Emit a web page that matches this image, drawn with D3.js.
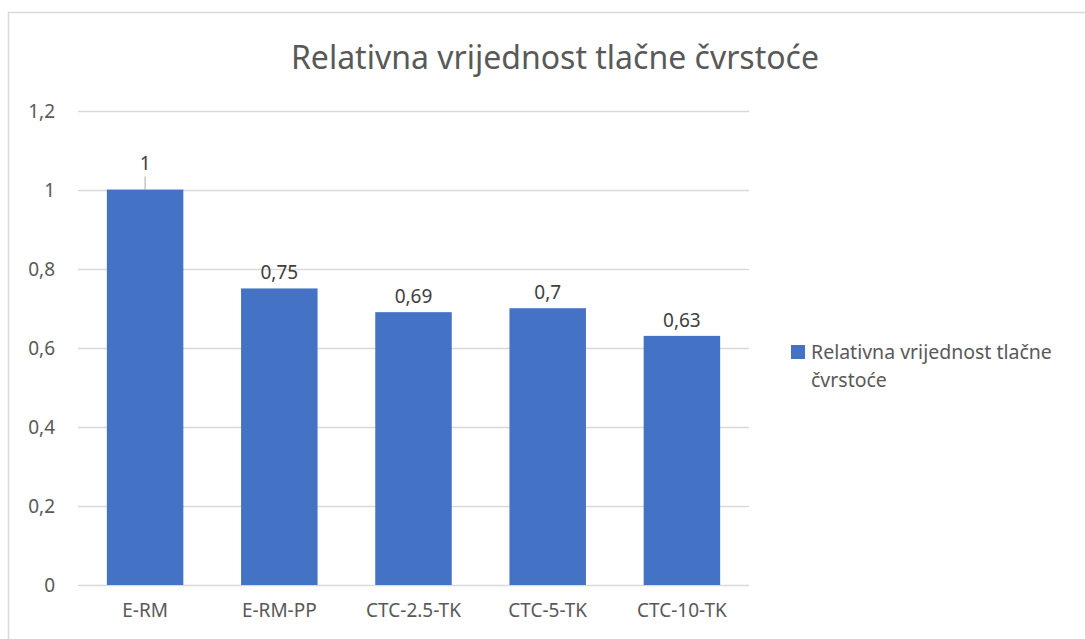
<!DOCTYPE html>
<html>
<head>
<meta charset="utf-8">
<script src="https://cdn.jsdelivr.net/npm/d3@7"></script>
<style>
  body { margin: 0; background: #fff; }
  svg { font-family: "Noto Sans", "Open Sans", sans-serif; }
</style>
</head>
<body>
<svg id="chart" width="1085" height="639"></svg>
<script>
// data
var categories = ["E-RM", "E-RM-PP", "CTC-2.5-TK", "CTC-5-TK", "CTC-10-TK"];
var values = [1, 0.75, 0.69, 0.7, 0.63];
var yTicks = [0, 0.2, 0.4, 0.6, 0.8, 1, 1.2];
var seriesName = "Relativna vrijednost tlačne čvrstoće";
var chartTitle = "Relativna vrijednost tlačne čvrstoće";

var svg = d3.select("#chart");
var textColor = "#595959";
var fontFam = '"Noto Sans", "Open Sans", sans-serif';
var fmt = (v) => String(v).replace(".", ",");

// outer frame (only top and left edge visible in picture)
svg.append("path")
  .attr("d", "M8.5,639 L8.5,12.5 L1085,12.5")
  .attr("fill", "none")
  .attr("stroke", "#d9d9d9")
  .attr("stroke-width", 1.5);

var xScale = d3.scaleBand().domain(categories).range([78, 749]).paddingInner(0.43).paddingOuter(0.215);
var yScale = d3.scaleLinear().domain([0, 1.2]).range([585, 110.5]);

// gridlines
svg.append("g")
  .selectAll("line")
  .data(yTicks)
  .join("line")
  .attr("x1", 78).attr("x2", 749)
  .attr("y1", (d) => Math.round(yScale(d)) + 0.5)
  .attr("y2", (d) => Math.round(yScale(d)) + 0.5)
  .attr("stroke", "#d9d9d9")
  .attr("stroke-width", 1.3);

// y axis labels
var yAxis = d3.axisLeft(yScale).tickValues(yTicks).tickFormat(fmt).tickSize(0).tickPadding(0);
var yg = svg.append("g").attr("transform", "translate(55,0)").call(yAxis)
  .attr("font-family", fontFam);
yg.select(".domain").remove();
yg.selectAll("text").attr("fill", textColor).style("font-size", "19px").attr("dy", "0.35em");

// x axis labels
var xAxis = d3.axisBottom(xScale).tickSize(0).tickPadding(0);
var xg = svg.append("g").attr("transform", "translate(0,617)").call(xAxis)
  .attr("font-family", fontFam);
xg.select(".domain").remove();
xg.selectAll("text").attr("fill", textColor).style("font-size", "19px").attr("dy", "0");

// bars
svg.append("g")
  .selectAll("rect")
  .data(values)
  .join("rect")
  .attr("x", (d, i) => xScale(categories[i]))
  .attr("y", (d) => yScale(d))
  .attr("width", xScale.bandwidth())
  .attr("height", (d) => yScale(0) - yScale(d))
  .attr("fill", "#4472c4");

// leader line for first label (label sits above the bar top)
svg.append("line")
  .attr("x1", xScale(categories[0]) + xScale.bandwidth() / 2)
  .attr("x2", xScale(categories[0]) + xScale.bandwidth() / 2)
  .attr("y1", yScale(values[0]) - 13)
  .attr("y2", yScale(values[0]))
  .attr("stroke", "#a6a6a6")
  .attr("stroke-width", 1);

// data labels
svg.append("g")
  .selectAll("text")
  .data(values)
  .join("text")
  .attr("x", (d, i) => xScale(categories[i]) + xScale.bandwidth() / 2)
  .attr("y", (d, i) => yScale(d) - (i === 0 ? 20 : 9))
  .attr("text-anchor", "middle")
  .attr("fill", "#404040")
  .style("font-size", "19px")
  .text(fmt);

// title
svg.append("text")
  .attr("x", 555)
  .attr("y", 69)
  .attr("text-anchor", "middle")
  .attr("fill", textColor)
  .style("font-size", "32px")
  .text(chartTitle);

// legend
var legend = svg.append("g").attr("transform", "translate(791,345)");
legend.append("rect").attr("width", 14).attr("height", 14).attr("fill", "#4472c4");
var words = seriesName.split(" ");
legend.append("text")
  .attr("x", 20).attr("y", 14)
  .attr("fill", textColor)
  .style("font-size", "19.5px")
  .text(words.slice(0, 3).join(" "));
legend.append("text")
  .attr("x", 20).attr("y", 42)
  .attr("fill", textColor)
  .style("font-size", "19.5px")
  .text(words.slice(3).join(" "));
</script>
</body>
</html>
